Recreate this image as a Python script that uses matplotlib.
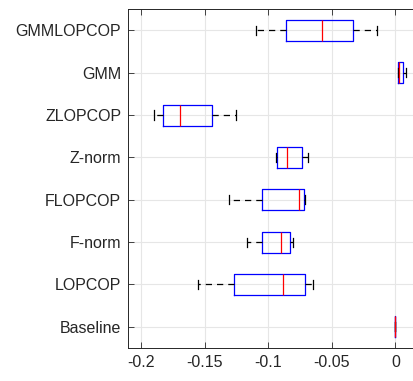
import matplotlib
matplotlib.use("Agg")
import matplotlib.pyplot as plt

# categories listed bottom to top
labels = ["Baseline", "LOPCOP", "F-norm", "FLOPCOP", "Z-norm", "ZLOPCOP", "GMM", "GMMLOPCOP"]
whislo = [0.0, -0.1549, -0.1166, -0.1305, -0.0938, -0.1900, 0.0019, -0.1095]
q1     = [0.0, -0.1266, -0.1050, -0.1050, -0.0928, -0.1830, 0.0024, -0.0862]
med    = [0.0, -0.0880, -0.0901, -0.0760, -0.0849, -0.1695, 0.0030, -0.0574]
q3     = [0.0, -0.0708, -0.0830, -0.0718, -0.0733, -0.1439, 0.0063, -0.0330]
whishi = [0.0, -0.0650, -0.0804, -0.0710, -0.0684, -0.1250, 0.0084, -0.0142]
xticks = [-0.2, -0.15, -0.1, -0.05, 0]
xticklabels = ["-0.2", "-0.15", "-0.1", "-0.05", "0"]

stats = []
for i in range(len(labels)):
    stats.append(dict(label=labels[i], whislo=whislo[i], q1=q1[i], med=med[i],
                      q3=q3[i], whishi=whishi[i], fliers=[]))

plt.rcParams['font.family'] = ['Liberation Sans', 'DejaVu Sans']

fig = plt.figure(figsize=(4.14, 3.81), dpi=100)
ax = fig.add_axes([0.3097, 0.0866, 0.6913, 0.889])

dark = (0.15, 0.15, 0.15)
ax.bxp(stats, positions=range(1, len(labels) + 1), vert=False, widths=0.5,
       capwidths=0.22, showfliers=False,
       boxprops=dict(color="blue", linewidth=0.9),
       medianprops=dict(color="red", linewidth=0.9),
       whiskerprops=dict(color="black", linewidth=0.9, linestyle=(0, (5, 4))),
       capprops=dict(color="black", linewidth=0.9))

ax.set_xlim(-0.21, 0.015)
ax.set_ylim(0.5, len(labels) + 0.5)
ax.set_xticks(xticks)
ax.set_xticklabels(xticklabels)
ax.set_yticks(range(1, len(labels) + 1))
ax.set_yticklabels(labels)
ax.grid(True, color=(0.9, 0.9, 0.9), linewidth=0.8)
ax.set_axisbelow(True)
ax.tick_params(direction="in", length=4, width=0.6, colors=dark, labelsize=11.5,
               top=True, right=False, pad=5)
for s in ax.spines.values():
    s.set_color(dark)
    s.set_linewidth(0.7)
ax.spines["right"].set_visible(False)

fig.savefig("out.png", dpi=100)
